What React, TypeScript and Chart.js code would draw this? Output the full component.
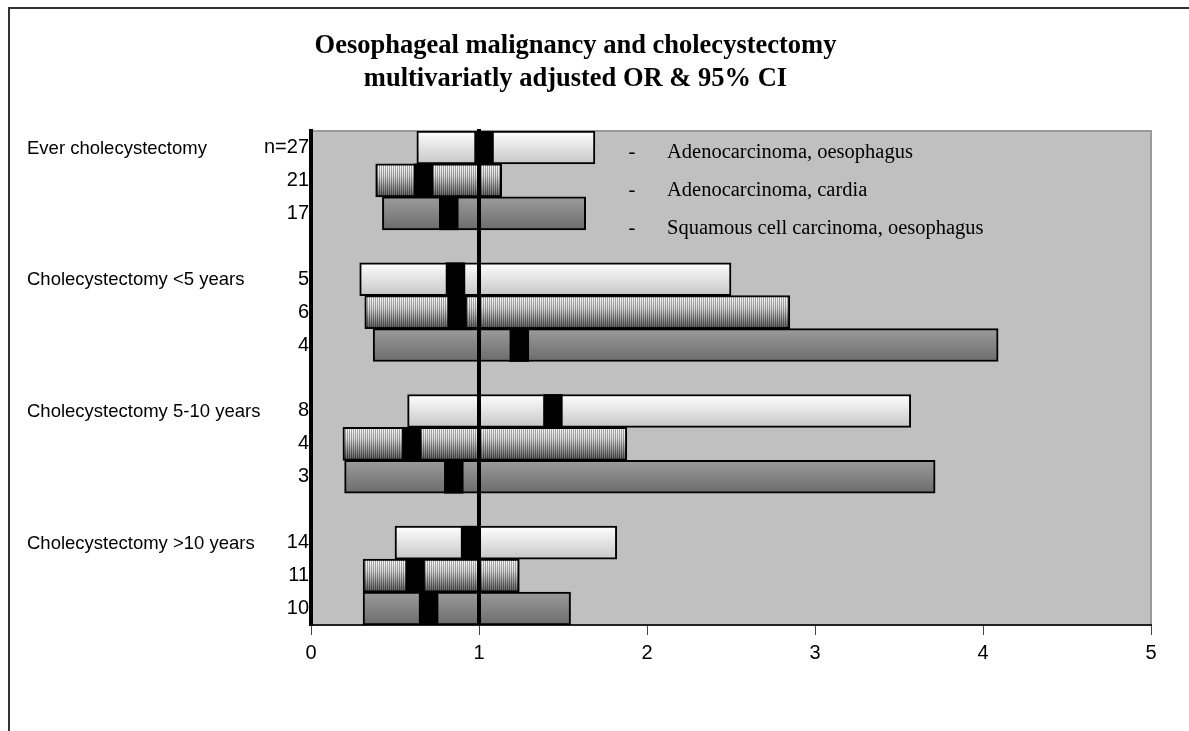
import { useEffect, useRef } from "react";
import { Chart, registerables } from "chart.js";

Chart.register(...registerables);

const titleLines = [
  "Oesophageal malignancy and cholecystectomy",
  "multivariatly adjusted OR & 95% CI",
];
const groupLabels = [
  "Ever cholecystectomy",
  "Cholecystectomy <5 years",
  "Cholecystectomy 5-10 years",
  "Cholecystectomy >10 years",
];
const seriesNames = [
  "Adenocarcinoma, oesophagus",
  "Adenocarcinoma, cardia",
  "Squamous cell carcinoma, oesophagus",
];

// n per group for each series
const adenoOesN = ["n=27", "5", "8", "14"];
const cardiaN = ["21", "6", "4", "11"];
const squamN = ["17", "4", "3", "10"];

// odds ratios and 95% CI
const adenoOesOR = [1.03, 0.86, 1.44, 0.95];
const adenoOesLow = [0.63, 0.29, 0.575, 0.5];
const adenoOesHigh = [1.69, 2.5, 3.57, 1.82];

const cardiaOR = [0.67, 0.87, 0.6, 0.62];
const cardiaLow = [0.385, 0.32, 0.19, 0.31];
const cardiaHigh = [1.135, 2.85, 1.88, 1.24];

const squamOR = [0.82, 1.24, 0.85, 0.7];
const squamLow = [0.425, 0.37, 0.2, 0.31];
const squamHigh = [1.635, 4.09, 3.715, 1.545];

const xTicks = [0, 1, 2, 3, 4, 5];
const referenceOR = 1;
const markerHalfWidth = 0.056;

// Build rows: 3 series per group, then an empty gap row
const rowLabels: string[] = [];
const rowSeries: number[] = [];
const rowGroup: number[] = [];
const nLists = [adenoOesN, cardiaN, squamN];
const orLists = [adenoOesOR, cardiaOR, squamOR];
const lowLists = [adenoOesLow, cardiaLow, squamLow];
const highLists = [adenoOesHigh, cardiaHigh, squamHigh];

groupLabels.forEach((_, g) => {
  for (let s = 0; s < 3; s++) {
    rowLabels.push(nLists[s][g]);
    rowSeries.push(s);
    rowGroup.push(g);
  }
  if (g < groupLabels.length - 1) {
    rowLabels.push("");
    rowSeries.push(-1);
    rowGroup.push(g);
  }
});

function seriesData(s: number) {
  return rowLabels.map((_, i) =>
    rowSeries[i] === s ? [lowLists[s][rowGroup[i]], highLists[s][rowGroup[i]]] : null
  );
}
function markerData() {
  return rowLabels.map((_, i) => {
    const s = rowSeries[i];
    if (s < 0) return null;
    const v = orLists[s][rowGroup[i]];
    return [v - markerHalfWidth, v + markerHalfWidth];
  });
}

function band(chart: any, index: number): [number, number] {
  const y = chart.scales.y;
  const area = chart.chartArea;
  const c = y.getPixelForValue(index);
  const half = (area.bottom - area.top) / rowLabels.length / 2;
  return [c - half, c + half];
}

function gradientFill(top: string, bottom: string) {
  return (ctx: any) => {
    const chart = ctx.chart;
    if (ctx.type !== "data" || !chart.chartArea || !chart.scales.y) return bottom;
    const [t, b] = band(chart, ctx.dataIndex);
    const g = chart.ctx.createLinearGradient(0, t, 0, b);
    g.addColorStop(0, top);
    g.addColorStop(1, bottom);
    return g;
  };
}

function stripeFill(ctx: any) {
  const chart = ctx.chart;
  if (ctx.type !== "data" || !chart.chartArea || !chart.scales.y) return "#888";
  const [t, b] = band(chart, ctx.dataIndex);
  const h = Math.max(2, Math.round(b - t));
  const c = document.createElement("canvas");
  c.width = 2;
  c.height = h;
  const g = c.getContext("2d")!;
  const g1 = g.createLinearGradient(0, 0, 0, h);
  g1.addColorStop(0, "#ffffff");
  g1.addColorStop(0.35, "#dcdcdc");
  g1.addColorStop(1, "#5e5e5e");
  g.fillStyle = g1;
  g.fillRect(0, 0, 1, h);
  const g2 = g.createLinearGradient(0, 0, 0, h);
  g2.addColorStop(0, "#a8a8a8");
  g2.addColorStop(0.35, "#969696");
  g2.addColorStop(1, "#343434");
  g.fillStyle = g2;
  g.fillRect(1, 0, 1, h);
  const p = chart.ctx.createPattern(c, "repeat");
  if (p && (p as any).setTransform) {
    p.setTransform(new DOMMatrix().translate(0, Math.round(t)));
  }
  return p || "#888";
}

const framePlugin = {
  id: "frame",
  beforeDraw(chart: any) {
    const { ctx, chartArea: a, width, height } = chart;
    ctx.save();
    ctx.fillStyle = "#ffffff";
    ctx.fillRect(0, 0, width, height);
    ctx.strokeStyle = "#333333";
    ctx.lineWidth = 2;
    ctx.beginPath();
    ctx.moveTo(9, height);
    ctx.lineTo(9, 8);
    ctx.lineTo(width, 8);
    ctx.stroke();
    ctx.fillStyle = "#c0c0c0";
    ctx.fillRect(a.left, a.top, a.right - a.left, a.bottom - a.top);
    ctx.strokeStyle = "#9a9a9a";
    ctx.lineWidth = 2;
    ctx.beginPath();
    ctx.moveTo(a.left, a.top);
    ctx.lineTo(a.right, a.top);
    ctx.lineTo(a.right, a.bottom);
    ctx.stroke();
    ctx.restore();
  },
  afterDatasetsDraw(chart: any) {
    const { ctx, chartArea: a } = chart;
    const x = chart.scales.x.getPixelForValue(referenceOR);
    ctx.save();
    ctx.strokeStyle = "#000";
    ctx.lineWidth = 4;
    ctx.beginPath();
    ctx.moveTo(x, a.top - 2);
    ctx.lineTo(x, a.bottom);
    ctx.stroke();
    ctx.restore();
  },
  afterDraw(chart: any) {
    const { ctx, chartArea: a } = chart;
    ctx.save();
    // group labels
    ctx.fillStyle = "#000";
    ctx.font = '18.5px "Liberation Sans", Arial, sans-serif';
    ctx.textAlign = "left";
    ctx.textBaseline = "middle";
    groupLabels.forEach((label, g) => {
      const idx = rowGroup.indexOf(g);
      const y = chart.scales.y.getPixelForValue(idx);
      ctx.fillText(label, 27, y + 1);
    });
    // legend text
    ctx.font = '20.5px "Liberation Serif", "Times New Roman", serif';
    seriesNames.forEach((name, i) => {
      const y = a.top + 22 + i * 38;
      ctx.textAlign = "center";
      ctx.fillText("-", 632, y);
      ctx.textAlign = "left";
      ctx.fillText(name, 667, y);
    });
    ctx.restore();
  },
};

export default function App() {
  const ref = useRef<HTMLCanvasElement>(null);
  useEffect(() => {
    if (!ref.current) return;
    const chart = new Chart(ref.current, {
      type: "bar",
      data: {
        labels: rowLabels,
        datasets: [
          {
            label: "OR",
            data: markerData() as any,
            backgroundColor: "#000",
            borderWidth: 0,
            grouped: false,
            order: -1,
          },
          {
            label: seriesNames[0],
            data: seriesData(0) as any,
            backgroundColor: gradientFill("#ffffff", "#c6c6c6"),
            borderColor: "#000",
            borderWidth: 2,
            borderSkipped: false,
            grouped: false,
          },
          {
            label: seriesNames[1],
            data: seriesData(1) as any,
            backgroundColor: stripeFill,
            borderColor: "#000",
            borderWidth: 2,
            borderSkipped: false,
            grouped: false,
          },
          {
            label: seriesNames[2],
            data: seriesData(2) as any,
            backgroundColor: gradientFill("#9c9c9c", "#6c6c6c"),
            borderColor: "#000",
            borderWidth: 2,
            borderSkipped: false,
            grouped: false,
          },
        ] as any,
      },
      options: {
        indexAxis: "y",
        animation: false,
        responsive: true,
        maintainAspectRatio: false,
        datasets: { bar: { categoryPercentage: 1, barPercentage: 1 } } as any,
        layout: { padding: { left: 0, top: 10, right: 38, bottom: 60 } },
        scales: {
          x: {
            type: "linear",
            min: xTicks[0],
            max: xTicks[xTicks.length - 1],
            afterBuildTicks: (scale: any) => {
              scale.ticks = xTicks.map((v) => ({ value: v }));
            },
            grid: {
              drawOnChartArea: false,
              drawTicks: true,
              tickLength: 10,
              color: "#444",
              lineWidth: 1,
            },
            border: { display: true, color: "#222", width: 2 },
            ticks: {
              color: "#000",
              padding: 6,
              font: { family: '"Liberation Sans", Arial, sans-serif', size: 20 },
            },
          },
          y: {
            type: "category",
            offset: true,
            grid: { display: false, drawTicks: false },
            border: { display: true, color: "#000", width: 4 },
            ticks: {
              color: "#000",
              padding: 2,
              autoSkip: false,
              font: { family: '"Liberation Sans", Arial, sans-serif', size: 20 },
            },
            afterFit: (scale: any) => {
              scale.width = 311;
            },
          },
        },
        plugins: {
          legend: { display: false },
          tooltip: { enabled: false },
          title: {
            display: true,
            text: titleLines,
            color: "#000",
            font: {
              family: '"Liberation Serif", "Times New Roman", serif',
              size: 26.5,
              weight: "bold",
              lineHeight: 33 / 26.5,
            },
            padding: { top: 19.5, bottom: 35.5 },
          },
        },
      } as any,
      plugins: [framePlugin],
    });
    return () => chart.destroy();
  }, []);
  return (
    <div
      style={{
        position: "fixed",
        left: 0,
        top: 0,
        width: 1189,
        height: 731,
        background: "#fff",
      }}
    >
      <canvas ref={ref} />
    </div>
  );
}
